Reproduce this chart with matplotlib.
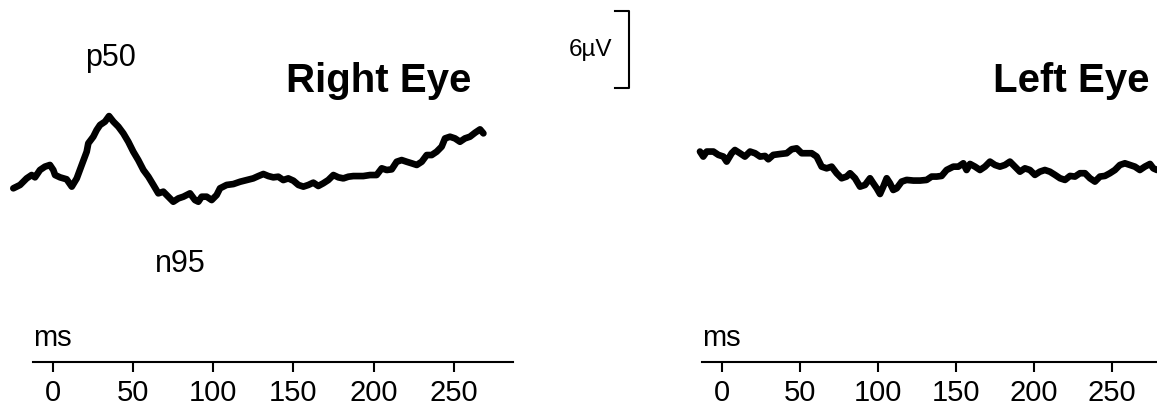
import matplotlib
matplotlib.use("Agg")
import matplotlib.pyplot as plt

plt.rcParams["font.family"] = ["Liberation Sans", "DejaVu Sans"]

# pattern-VEP traces, time in ms, amplitude in microvolts
right_ms = [-24.4, -20.2, -16.1, -13.0, -10.9, -7.8, -4.7, -1.6, 0.5, 1.6, 4.7, 8.8,
            12.0, 15.1, 18.2, 21.3, 22.3, 25.4, 27.5, 29.6, 32.7, 35.2, 37.9, 41.0,
            44.1, 47.2, 50.3, 53.4, 56.6, 59.7, 62.8, 65.9, 69.0, 72.1, 75.2, 78.4,
            81.5, 85.6, 88.7, 90.8, 92.9, 96.0, 99.1, 102.2, 104.3, 108.4, 112.6,
            116.8, 120.9, 125.0, 128.2, 131.3, 134.4, 137.5, 140.6, 143.7, 146.8,
            150.0, 153.1, 156.2, 159.3, 162.4, 165.5, 168.6, 171.7, 174.9, 178.0,
            181.1, 184.2, 187.3, 190.4, 193.5, 197.7, 201.8, 205.0, 208.1, 211.2,
            214.3, 217.4, 220.5, 223.6, 226.8, 229.9, 233.0, 236.1, 239.2, 242.3,
            244.4, 247.5, 250.6, 253.7, 256.8, 259.9, 263.1, 266.2, 268.3]
right_uv = [0.13, 0.39, 0.90, 1.16, 0.98, 1.55, 1.81, 1.94, 1.55, 1.16, 0.98, 0.83,
            0.26, 0.90, 1.94, 2.97, 3.62, 4.13, 4.65, 5.04, 5.30, 5.73, 5.30, 4.91,
            4.39, 3.74, 2.97, 2.32, 1.55, 1.03, 0.39, -0.26, -0.13, -0.52, -0.91, -0.65,
            -0.52, -0.26, -0.78, -0.91, -0.52, -0.52, -0.78, -0.39, 0.13, 0.39, 0.46,
            0.64, 0.77, 0.90, 1.08, 1.24, 1.08, 0.98, 1.03, 0.77, 0.90,
            0.72, 0.39, 0.26, 0.39, 0.57, 0.31, 0.52, 0.77, 1.16, 0.98,
            0.90, 1.03, 1.08, 1.08, 1.08, 1.16, 1.16, 1.68, 1.55, 1.60,
            2.19, 2.32, 2.19, 2.07, 1.94, 2.19, 2.71, 2.71, 2.97, 3.36,
            4.00, 4.13, 4.00, 3.74, 4.00, 4.13, 4.44, 4.70, 4.39]

left_ms = [-14.1, -12.0, -9.8, -5.5, -2.3, 0.9, 3.0, 6.2, 8.3, 11.5, 14.7, 18.0,
           21.2, 24.4, 27.6, 29.7, 32.9, 37.2, 41.5, 44.7, 47.9, 51.1, 54.3, 57.5,
           60.7, 63.9, 67.1, 70.3, 73.5, 76.7, 79.9, 82.1, 85.3, 88.5, 91.7, 94.9,
           97.0, 99.2, 101.3, 103.4, 105.6, 107.7, 109.8, 112.0, 115.2, 118.4, 122.7,
           127.0, 131.2, 134.4, 137.6, 140.8, 144.0, 148.3, 151.5, 154.7, 156.8,
           159.0, 162.2, 165.4, 168.6, 171.8, 175.0, 178.2, 181.4, 184.6, 187.8,
           191.0, 194.2, 197.4, 200.6, 203.8, 207.0, 210.2, 213.5, 216.7, 219.9,
           223.1, 226.3, 229.5, 232.7, 235.9, 239.1, 242.3, 245.5, 248.7, 251.9,
           255.1, 258.3, 261.5, 264.7, 267.9, 271.1, 274.4, 276.5, 278.9]
left_uv = [2.98, 2.59, 2.98, 2.98, 2.72, 2.59, 2.20, 2.85, 3.10, 2.85, 2.59, 2.98,
           2.85, 2.59, 2.64, 2.38, 2.72, 2.79, 2.85, 3.16, 3.23, 2.85, 2.85, 2.85,
           2.59, 1.81, 1.68, 1.81, 1.30, 0.91, 1.04, 1.30, 0.91, 0.26, 0.39, 0.91,
           0.52, 0.13, -0.31, 0.26, 0.91, 0.52, 0.00, 0.13, 0.65, 0.78, 0.73,
           0.73, 0.78, 1.04, 1.04, 1.09, 1.55, 1.81, 1.81, 2.07, 1.55,
           2.02, 1.81, 1.55, 1.81, 2.20, 1.94, 1.81, 1.94, 2.20, 1.81,
           1.42, 1.68, 1.55, 1.17, 1.42, 1.55, 1.42, 1.17, 0.91, 0.78,
           1.09, 1.04, 1.30, 1.30, 0.91, 0.65, 1.04, 1.09, 1.30, 1.55,
           1.94, 2.07, 1.94, 1.81, 1.55, 1.81, 2.02, 1.68, 1.55]

tick_ms = [0, 50, 100, 150, 200, 250]
scale_uv = 6

fig = plt.figure(figsize=(11.57, 4.09), dpi=100)
ylim = (-16.98, 14.73)
axis_y = -13.33

panels = [
    # (rect, xlim, axis bounds, x, y, title, title right edge)
    ([0.0, 0.0, 640 / 1157, 1.0], (-32.69, 365.8), (-12, 287),
     right_ms, right_uv, "Right Eye", 261),
    ([690 / 1157, 0.0, 560 / 1157, 1.0], (-20.5, 338.5), (-13, 340),
     left_ms, left_uv, "Left Eye", 274),
]

axes = []
for rect, xlim, bounds, xs, ys, title, title_x in panels:
    ax = fig.add_axes(rect)
    ax.patch.set_visible(False)
    ax.set_xlim(*xlim)
    ax.set_ylim(*ylim)
    ax.plot(xs, ys, color="black", linewidth=4.8, solid_joinstyle="round",
            solid_capstyle="round")
    for side in ("top", "left", "right"):
        ax.spines[side].set_visible(False)
    ax.spines["bottom"].set_position(("data", axis_y))
    ax.spines["bottom"].set_bounds(*bounds)
    ax.spines["bottom"].set_linewidth(1.5)
    ax.yaxis.set_visible(False)
    ax.set_xticks(tick_ms)
    ax.tick_params(axis="x", length=7.5, width=1.5, labelsize=21, pad=5)
    ax.text(bounds[0], -12.1, "ms", fontsize=21, ha="left", va="baseline")
    ax.text(title_x, 7.6, title, fontsize=29, fontweight="bold",
            ha="right", va="baseline")
    axes.append(ax)

ax = axes[0]
ax.text(36.4, 9.6, "p50", fontsize=22, ha="center", va="baseline")
ax.text(79.4, -6.36, "n95", fontsize=22, ha="center", va="baseline")

# amplitude scale bar
bar_x, bar_top = 359, 13.88
ax.plot([350, bar_x, bar_x, 350], [bar_top, bar_top, bar_top - scale_uv, bar_top - scale_uv],
        color="black", linewidth=1.5, clip_on=False)
ax.text(334.7, bar_top - scale_uv / 2, "6\u00b5V", fontsize=17.5, ha="center", va="center")

fig.savefig("out.png", dpi=100)
